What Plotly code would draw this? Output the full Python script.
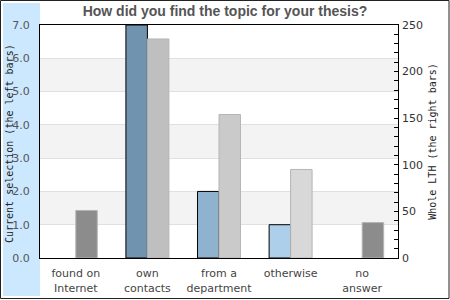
import plotly.graph_objects as go

categories = ["found on<br>Internet", "own<br>contacts", "from a<br>department", "otherwise", "no<br>answer"]
left_values = [None, 7, 2, 1, None]    # Current selection (0 -> no bar)
right_values = [51, 235, 154, 95, 38]  # Whole LTH
left_colors = ["#7093b0", "#7093b0", "#8fb2cf", "#aecfe9", "#7093b0"]
right_colors = ["#8c8c8c", "#bfbfbf", "#cacaca", "#d8d8d8", "#8c8c8c"]
left_ticks = [0, 1, 2, 3, 4, 5, 6, 7]
band_ranges = [(1, 2), (3, 4), (5, 6)]
left_title = "Current selection (the left bars)"
right_title = "Whole LTH (the right bars)"

fig = go.Figure()
fig.add_trace(go.Bar(
    x=categories, y=left_values, yaxis="y",
    width=0.3, offset=-0.3,
    marker=dict(color=left_colors, line=dict(color="#000000", width=1)),
    showlegend=False, name="Current selection",
))
fig.add_trace(go.Bar(
    x=categories, y=right_values, yaxis="y2",
    width=0.3, offset=0,
    marker=dict(color=right_colors, line=dict(color="#b4b4b4", width=1)),
    showlegend=False, name="Whole LTH",
))

shapes = []
for lo, hi in band_ranges:
    shapes.append(dict(type="rect", xref="paper", yref="y", x0=0, x1=1, y0=lo, y1=hi,
                       fillcolor="#f3f3f3", line=dict(width=0), layer="below"))
# light blue side panel
shapes.append(dict(type="rect", xref="paper", yref="paper",
                   x0=(3 - 40) / 358, x1=0, y0=(258 - 296) / 233, y1=(258 - 3) / 233,
                   fillcolor="#cce8ff", line=dict(width=0), layer="below"))
# outer frame
shapes.append(dict(type="rect", xref="paper", yref="paper",
                   x0=(0.5 - 40) / 358, x1=(449 - 40) / 358,
                   y0=(258 - 298.5) / 233, y1=(258 - 0.5) / 233,
                   fillcolor="rgba(0,0,0,0)", line=dict(color="#222222", width=1), layer="above"))

fig.update_layout(
    template="none",
    width=450, height=300,
    margin=dict(l=40, r=52, t=25, b=42, autoexpand=False),
    paper_bgcolor="white", plot_bgcolor="white",
    font=dict(family="DejaVu Sans", size=11, color="#444444"),
    title=dict(text="<b>How did you find the topic for your thesis?</b>",
               font=dict(family="Liberation Sans", size=14, color="#555555"),
               x=0.5, xref="container", xanchor="center",
               y=1 - 11.5 / 300, yref="container", yanchor="middle"),
    barmode="overlay",
    shapes=shapes,
    annotations=[dict(text=left_title, textangle=-90, showarrow=False,
                      xref="paper", yref="paper",
                      x=(9.5 - 40) / 358, y=(258 - 143.5) / 233,
                      xanchor="center", yanchor="middle",
                      font=dict(family="DejaVu Sans Mono", size=10, color="#222222"))],
    xaxis=dict(showline=True, linecolor="#000000", linewidth=1, mirror=True,
               automargin=False,
               ticks="", showgrid=False, tickfont=dict(size=11, color="#444444"),
               ticklabelstandoff=5),
    yaxis=dict(range=[0, 7], tickvals=left_ticks, tickformat=".1f",
               automargin=False,
               showline=True, linecolor="#000000", linewidth=1, mirror=True,
               ticks="", showgrid=True, gridcolor="#e0e0e0", gridwidth=1,
               zeroline=False, tickfont=dict(size=11, color="#555555"),
               ticklabelstandoff=7),
    yaxis2=dict(range=[0, 250], dtick=50, overlaying="y", side="right",
                automargin=False,
                showline=False, showgrid=False, zeroline=False,
                ticks="inside", ticklen=4, tickcolor="#000000", tickwidth=1,
                minor=dict(dtick=10, ticks="inside", ticklen=4, tickcolor="#000000", tickwidth=1),
                tickfont=dict(size=11, color="#333333"),
                ticklabelstandoff=3,
                title=dict(text=right_title,
                           font=dict(family="DejaVu Sans Mono", size=10, color="#222222"),
                           standoff=6)),
)

fig.write_html("out.html")
